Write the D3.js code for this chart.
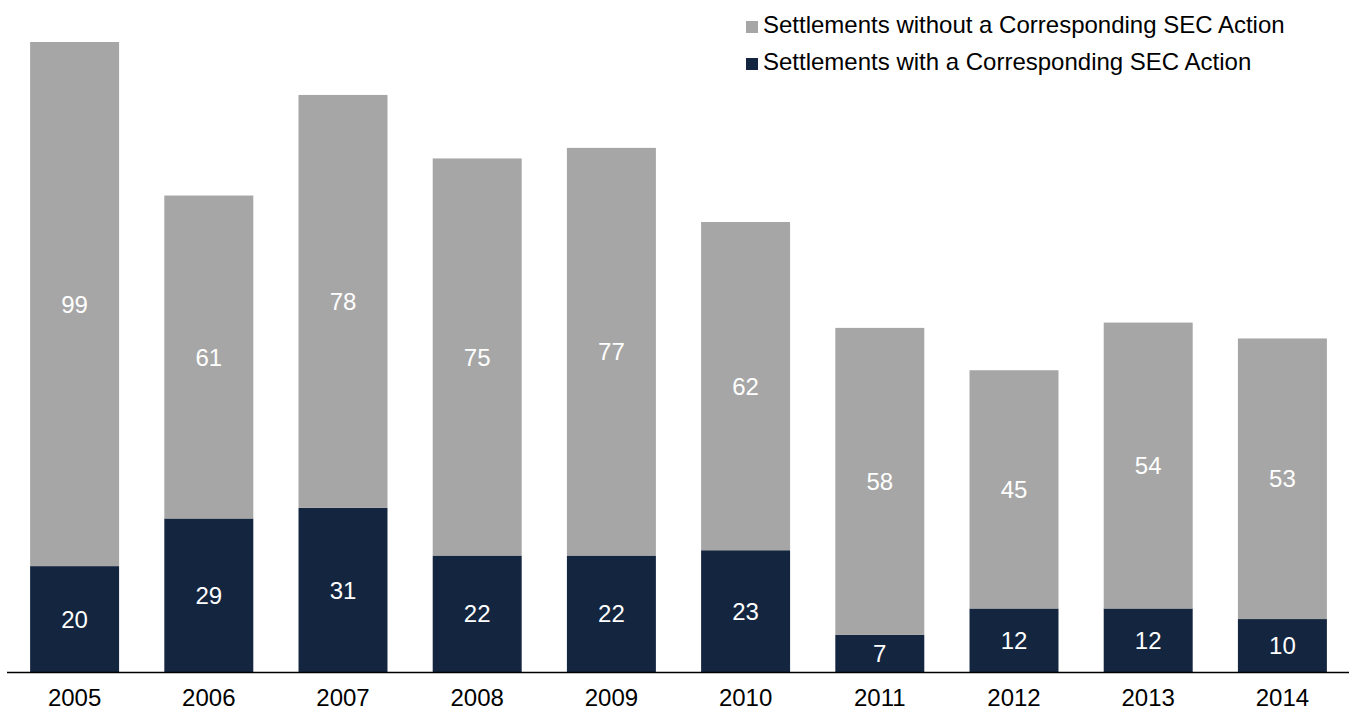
<!DOCTYPE html>
<html><head><meta charset="utf-8">
<script src="https://cdn.jsdelivr.net/npm/d3@7"></script>
<style>body{margin:0;background:#fff}svg{display:block}text{font-family:"Liberation Sans",Arial,sans-serif}</style>
</head><body><svg id="c" width="1349" height="711"></svg>
<script>
const years = ["2005","2006","2007","2008","2009","2010","2011","2012","2013","2014"];
const withSEC = [20,29,31,22,22,23,7,12,12,10];
const withoutSEC = [99,61,78,75,77,62,58,45,54,53];
const seriesNames = ["Settlements without a Corresponding SEC Action","Settlements with a Corresponding SEC Action"];
const colors = {with:"#13253f", without:"#a6a6a6"};

const svg = d3.select("#c");
const x = d3.scaleBand().domain(years).range([7.5, 1349.5]).paddingInner(0.337).paddingOuter(0.1685);
const y = d3.scaleLinear().domain([0,119]).range([672,42]);

const data = years.map((yr,i)=>({year:yr, with:withSEC[i], without:withoutSEC[i]}));
const stack = d3.stack().keys(["with","without"])(data);

const g = svg.append("g");
stack.forEach(layer=>{
  g.selectAll(null).data(layer).enter().append("rect")
    .attr("x", d=>x(d.data.year))
    .attr("width", x.bandwidth())
    .attr("y", d=>y(d[1]))
    .attr("height", d=>y(d[0])-y(d[1]))
    .attr("fill", colors[layer.key]);
  g.selectAll(null).data(layer).enter().append("text")
    .attr("x", d=>x(d.data.year)+x.bandwidth()/2)
    .attr("y", d=>(y(d[0])+y(d[1]))/2)
    .attr("dy","0.36em")
    .attr("text-anchor","middle")
    .attr("fill","#fff")
    .style("font-size","24px")
    .text(d=>d.data[layer.key]);
});

const ax = svg.append("g").attr("transform","translate(0,672.5)")
  .call(d3.axisBottom(x).tickSize(0).tickPadding(16));
ax.select(".domain").attr("d","M7,0H1349").attr("stroke","#000").attr("stroke-width",1.5);
ax.selectAll("text").style("font-size","24px").attr("fill","#000").style("font-family",'"Liberation Sans",Arial,sans-serif');

const leg = svg.append("g");
const legItems = [{name:seriesNames[0], c:colors.without, y:33},{name:seriesNames[1], c:colors.with, y:70}];
legItems.forEach(it=>{
  leg.append("rect").attr("x",746).attr("y",it.y-12).attr("width",12).attr("height",12).attr("fill",it.c);
  leg.append("text").attr("x",763).attr("y",it.y).attr("fill","#000").style("font-size","24px").text(it.name);
});
</script></body></html>
